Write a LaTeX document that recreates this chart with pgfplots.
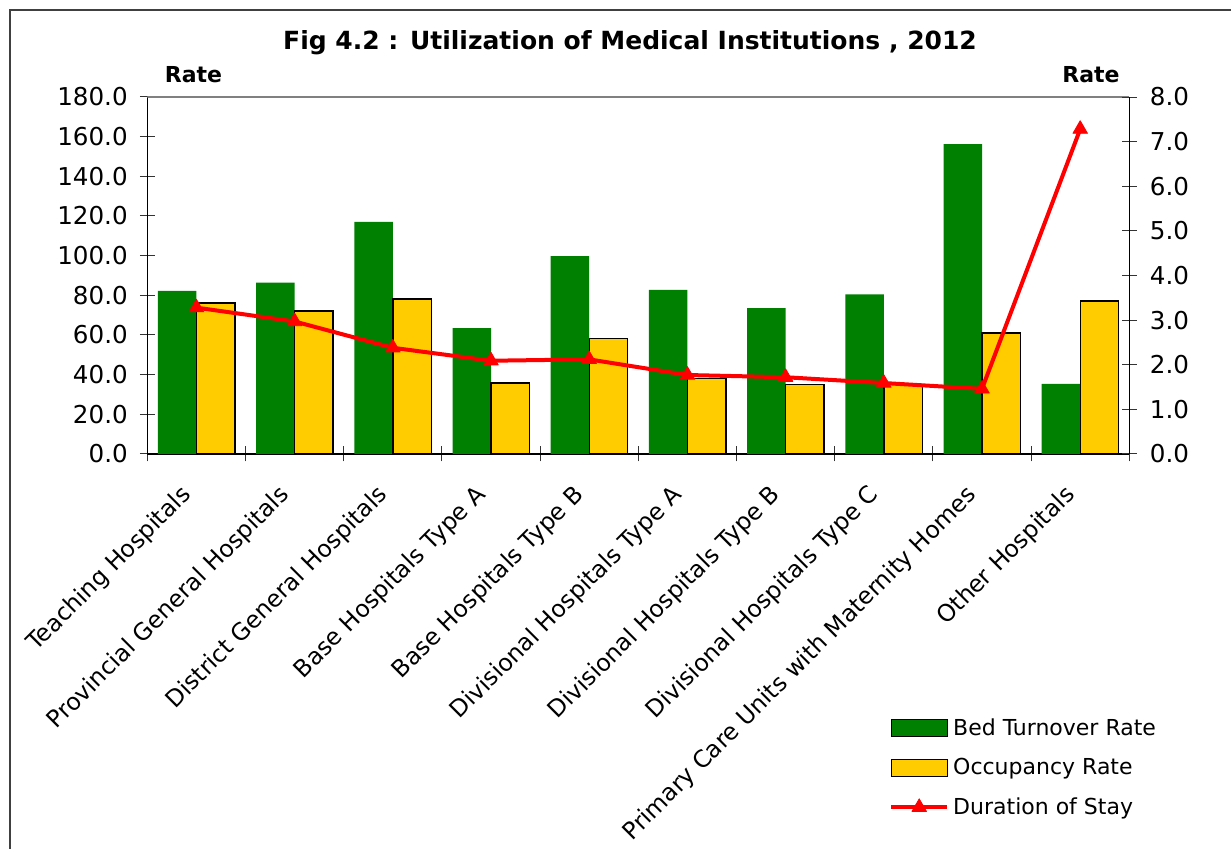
\documentclass[border=0pt]{standalone}
\usepackage{fontspec}
\setmainfont{DejaVu Sans}
\usepackage{pgfplots}
\pgfplotsset{compat=1.18}
\definecolor{bargreen}{HTML}{008000}
\definecolor{baryellow}{HTML}{FFCC00}
\pgfplotsset{
 mybarlegend/.style={legend image code/.code={\draw[##1] (0pt,-4.25pt) rectangle (28pt,4.25pt);}},
 mylinelegend/.style={legend image code/.code={\draw[mark repeat=2,mark phase=2,##1] plot coordinates {(0pt,0pt) (14pt,0pt) (28pt,0pt)};}},
}
\begin{document}
\begin{tikzpicture}[font=\fontsize{11}{13}\selectfont]
\path[use as bounding box] (0,0) rectangle (615.5pt,424.5pt);
\draw[line width=1pt, black!75] (5pt,0) -- (5pt,419.5pt) -- (615.5pt,419.5pt);
\node[font=\bfseries\fontsize{12.5}{15}\selectfont] at (315pt,403pt) {Fig 4.2 : Utilization of Medical Institutions , 2012};
\node[font=\bfseries\fontsize{11}{13}\selectfont] at (96.75pt,387pt) {Rate};
\node[font=\bfseries\fontsize{11}{13}\selectfont] at (545.5pt,387pt) {Rate};
\begin{axis}[
 at={(73.65pt,197.5pt)}, anchor=south west, scale only axis,
 width=491pt, height=178.5pt,
 ybar=0pt, bar width=19.25pt,
 xmin=-0.5, xmax=9.5, ymin=0, ymax=180,
 ytick={0,20,...,180},
 xtick={0,...,9},
 xticklabels={Teaching Hospitals, Provincial General Hospitals, District General Hospitals, Base Hospitals Type A, Base Hospitals Type B, Divisional Hospitals Type A, Divisional Hospitals Type B, Divisional Hospitals Type C, Primary Care Units with Maternity Homes, Other Hospitals},
 x tick label style={xshift=-8.5pt, yshift=-6pt, rotate=45, anchor=north east, font=\fontsize{11.8}{14}\selectfont},
 minor xtick={-0.5,0.5,1.5,2.5,3.5,4.5,5.5,6.5,7.5,8.5,9.5},
 major x tick style={draw=none},
 tick align=center, major tick length=7.5pt, minor tick length=7.5pt,
 tick style={black!80, line width=0.5pt},
 axis x line*=bottom, axis y line*=left,
 axis line style={black, line width=0.8pt},
 /pgf/number format/assume math mode=true,
 /pgf/number format/fixed, /pgf/number format/fixed zerofill, /pgf/number format/precision=1, /pgf/number format/1000 sep={},
 yticklabel style={font=\fontsize{12.3}{14}\selectfont, xshift=-2.5pt},
]
\addplot[fill=bargreen, draw=none] coordinates {(0,82.3) (1,86.4) (2,117.0) (3,63.4) (4,99.8) (5,82.7) (6,73.5) (7,80.5) (8,156.2) (9,35.3)};
\addplot[fill=baryellow, draw=black, line width=0.7pt] coordinates {(0,76.1) (1,72.1) (2,78.2) (3,35.8) (4,58.2) (5,38.2) (6,35.0) (7,35.0) (8,61.0) (9,77.2)};
\draw[gray, line width=0.8pt] (rel axis cs:0,1) -- (rel axis cs:1,1);
\end{axis}
\begin{axis}[
 at={(73.65pt,197.5pt)}, anchor=south west, scale only axis,
 width=491pt, height=178.5pt,
 xmin=-0.5, xmax=9.5, ymin=0, ymax=8,
 ytick={0,...,8},
 axis y line*=right, axis x line=none,
 tick align=center, major tick length=7.5pt,
 tick style={black!80, line width=0.5pt},
 axis line style={black, line width=0.8pt},
 /pgf/number format/assume math mode=true,
 /pgf/number format/fixed, /pgf/number format/fixed zerofill, /pgf/number format/precision=1,
 yticklabel style={font=\fontsize{12.3}{14}\selectfont, xshift=3pt},
 legend style={at={(axis description cs:0.749,-0.717)}, anchor=north west, draw=none, fill=none, row sep=6pt, font=\fontsize{11}{13}\selectfont},
 legend cell align=left,
]
\addlegendimage{mybarlegend, fill=baryellow!0!bargreen, draw=none}
\addlegendentry{Bed Turnover Rate}
\addlegendimage{mybarlegend, fill=baryellow, draw=black, line width=0.7pt}
\addlegendentry{Occupancy Rate}
\addplot[red, line width=2pt, line join=round, mark=triangle*, mark size=4.2pt, mark options={solid, line width=0.4pt}, mylinelegend] coordinates {(0,3.28) (1,2.97) (2,2.38) (3,2.09) (4,2.12) (5,1.77) (6,1.72) (7,1.59) (8,1.46) (9,7.28)};
\addlegendentry{Duration of Stay}
\end{axis}
\end{tikzpicture}
\end{document}
